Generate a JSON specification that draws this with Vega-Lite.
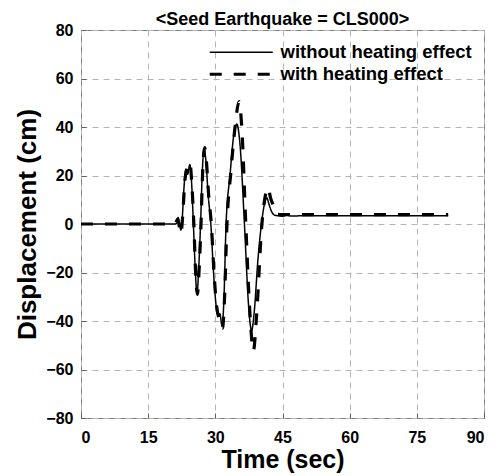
{
  "$schema": "https://vega.github.io/schema/vega-lite/v6.json",
  "width": 403,
  "height": 388,
  "autosize": {"type": "none"},
  "padding": {"left": 81, "top": 30, "right": 20, "bottom": 58},
  "background": "white",
  "title": {
    "text": "<Seed Earthquake = CLS000>",
    "font": "Liberation Sans",
    "fontWeight": "bold",
    "fontSize": 18,
    "color": "black",
    "offset": 5,
    "dy": 12,
    "anchor": "middle"
  },
  "config": {
    "view": {"stroke": "#808080", "strokeWidth": 1},
    "axis": {
      "labelFont": "Liberation Sans",
      "labelFontWeight": "bold",
      "labelFontSize": 16,
      "labelColor": "black",
      "titleFont": "Liberation Sans",
      "titleFontWeight": "bold",
      "titleFontSize": 26,
      "titleColor": "black",
      "domain": false,
      "grid": true,
      "gridColor": "#b4b4b4",
      "gridDash": [6, 5],
      "gridWidth": 1,
      "tickColor": "#606060",
      "tickSize": -5,
      "labelPadding": 13
    },
    "legend": {
      "labelLimit": 0
    }
  },
  "data": {
    "values": [
      {"t": 0, "d": 0, "s": "without heating effect"},
      {"t": 21.0, "d": 0, "s": "without heating effect"},
      {"t": 21.4, "d": 0.3, "s": "without heating effect"},
      {"t": 21.7, "d": 2.7, "s": "without heating effect"},
      {"t": 22.0, "d": 0, "s": "without heating effect"},
      {"t": 22.3, "d": -2.5, "s": "without heating effect"},
      {"t": 22.6, "d": 2, "s": "without heating effect"},
      {"t": 23.0, "d": 15, "s": "without heating effect"},
      {"t": 23.4, "d": 22.5, "s": "without heating effect"},
      {"t": 23.8, "d": 20.5, "s": "without heating effect"},
      {"t": 24.3, "d": 24.5, "s": "without heating effect"},
      {"t": 24.7, "d": 17, "s": "without heating effect"},
      {"t": 25.1, "d": 0, "s": "without heating effect"},
      {"t": 25.5, "d": -18, "s": "without heating effect"},
      {"t": 25.9, "d": -28.5, "s": "without heating effect"},
      {"t": 26.3, "d": -18, "s": "without heating effect"},
      {"t": 26.7, "d": 0, "s": "without heating effect"},
      {"t": 27.1, "d": 22, "s": "without heating effect"},
      {"t": 27.5, "d": 31, "s": "without heating effect"},
      {"t": 27.9, "d": 26, "s": "without heating effect"},
      {"t": 28.4, "d": 12, "s": "without heating effect"},
      {"t": 29.0, "d": 0, "s": "without heating effect"},
      {"t": 29.6, "d": -20, "s": "without heating effect"},
      {"t": 30.2, "d": -34, "s": "without heating effect"},
      {"t": 30.6, "d": -37.5, "s": "without heating effect"},
      {"t": 31.0, "d": -37, "s": "without heating effect"},
      {"t": 31.5, "d": -42, "s": "without heating effect"},
      {"t": 31.9, "d": -32, "s": "without heating effect"},
      {"t": 32.4, "d": 0, "s": "without heating effect"},
      {"t": 33.3, "d": 20.5, "s": "without heating effect"},
      {"t": 34.0, "d": 35, "s": "without heating effect"},
      {"t": 34.8, "d": 41.2, "s": "without heating effect"},
      {"t": 35.5, "d": 33, "s": "without heating effect"},
      {"t": 36.5, "d": 0, "s": "without heating effect"},
      {"t": 37.4, "d": -33, "s": "without heating effect"},
      {"t": 38.1, "d": -44, "s": "without heating effect"},
      {"t": 38.7, "d": -36, "s": "without heating effect"},
      {"t": 39.5, "d": -15, "s": "without heating effect"},
      {"t": 40.3, "d": 0, "s": "without heating effect"},
      {"t": 41.0, "d": 8.5, "s": "without heating effect"},
      {"t": 41.5, "d": 10.8, "s": "without heating effect"},
      {"t": 42.0, "d": 8, "s": "without heating effect"},
      {"t": 42.6, "d": 5, "s": "without heating effect"},
      {"t": 43.3, "d": 3.6, "s": "without heating effect"},
      {"t": 44.0, "d": 3.4, "s": "without heating effect"},
      {"t": 45.0, "d": 3.2, "s": "without heating effect"},
      {"t": 46.0, "d": 3.6, "s": "without heating effect"},
      {"t": 47.0, "d": 3.3, "s": "without heating effect"},
      {"t": 50.0, "d": 3.4, "s": "without heating effect"},
      {"t": 82.0, "d": 3.4, "s": "without heating effect"},
      {"t": 0, "d": 0, "s": "with heating effect"},
      {"t": 21.0, "d": 0, "s": "with heating effect"},
      {"t": 21.6, "d": 2, "s": "with heating effect"},
      {"t": 22.3, "d": -4, "s": "with heating effect"},
      {"t": 22.7, "d": 3, "s": "with heating effect"},
      {"t": 23.2, "d": 18, "s": "with heating effect"},
      {"t": 23.7, "d": 23, "s": "with heating effect"},
      {"t": 24.3, "d": 25.3, "s": "with heating effect"},
      {"t": 24.8, "d": 15, "s": "with heating effect"},
      {"t": 25.2, "d": 0, "s": "with heating effect"},
      {"t": 25.6, "d": -20, "s": "with heating effect"},
      {"t": 26.0, "d": -29, "s": "with heating effect"},
      {"t": 26.4, "d": -18, "s": "with heating effect"},
      {"t": 26.8, "d": 0, "s": "with heating effect"},
      {"t": 27.2, "d": 23, "s": "with heating effect"},
      {"t": 27.6, "d": 31.5, "s": "with heating effect"},
      {"t": 28.0, "d": 26, "s": "with heating effect"},
      {"t": 28.5, "d": 12, "s": "with heating effect"},
      {"t": 29.1, "d": 0, "s": "with heating effect"},
      {"t": 29.7, "d": -20, "s": "with heating effect"},
      {"t": 30.3, "d": -34, "s": "with heating effect"},
      {"t": 31.0, "d": -40, "s": "with heating effect"},
      {"t": 31.6, "d": -43, "s": "with heating effect"},
      {"t": 32.0, "d": -33, "s": "with heating effect"},
      {"t": 32.6, "d": 0, "s": "with heating effect"},
      {"t": 33.5, "d": 22, "s": "with heating effect"},
      {"t": 34.4, "d": 40, "s": "with heating effect"},
      {"t": 35.3, "d": 50.5, "s": "with heating effect"},
      {"t": 35.9, "d": 40, "s": "with heating effect"},
      {"t": 36.8, "d": 0, "s": "with heating effect"},
      {"t": 37.7, "d": -36, "s": "with heating effect"},
      {"t": 38.5, "d": -52.4, "s": "with heating effect"},
      {"t": 39.2, "d": -38, "s": "with heating effect"},
      {"t": 40.4, "d": 0, "s": "with heating effect"},
      {"t": 41.1, "d": 11, "s": "with heating effect"},
      {"t": 41.8, "d": 15, "s": "with heating effect"},
      {"t": 42.3, "d": 11, "s": "with heating effect"},
      {"t": 42.7, "d": 8.8, "s": "with heating effect"},
      {"t": 43.2, "d": 6.5, "s": "with heating effect"},
      {"t": 43.7, "d": 4, "s": "with heating effect"},
      {"t": 44.5, "d": 3.9, "s": "with heating effect"},
      {"t": 82.0, "d": 3.9, "s": "with heating effect"}
    ]
  },
  "mark": {"type": "line", "interpolate": "monotone", "color": "black", "clip": true},
  "encoding": {
    "x": {
      "field": "t",
      "type": "quantitative",
      "scale": {"domain": [0, 90], "nice": false},
      "axis": {"values": [0, 15, 30, 45, 60, 75, 90], "title": "Time (sec)", "titlePadding": 2, "titleFontSize": 25, "labelPadding": 16}
    },
    "y": {
      "field": "d",
      "type": "quantitative",
      "scale": {"domain": [-80, 80], "nice": false},
      "axis": {"values": [-80, -60, -40, -20, 0, 20, 40, 60, 80], "title": "Displacement (cm)", "titlePadding": 5}
    },
    "detail": {"field": "s"},
    "strokeDash": {
      "field": "s",
      "type": "nominal",
      "scale": {"domain": ["without heating effect", "with heating effect"], "range": [[1, 0], [12, 12]]},
      "legend": {
        "title": null,
        "orient": "none",
        "legendX": 151,
        "legendY": 13,
        "symbolType": "M-5,0H5",
        "symbolSize": 159,
        "symbolStrokeColor": "black",
        "labelFont": "Liberation Sans",
        "labelFontWeight": "bold",
        "labelFontSize": 18.5,
        "labelColor": "black",
        "labelOffset": 30,
        "labelLimit": 0,
        "rowPadding": 3
      }
    },
    "strokeWidth": {
      "field": "s",
      "type": "nominal",
      "scale": {"domain": ["without heating effect", "with heating effect"], "range": [1.5, 3.2]},
      "legend": {
        "title": null,
        "orient": "none",
        "legendX": 151,
        "legendY": 13,
        "symbolType": "M-5,0H5",
        "symbolSize": 159,
        "symbolStrokeColor": "black",
        "labelFont": "Liberation Sans",
        "labelFontWeight": "bold",
        "labelFontSize": 18.5,
        "labelColor": "black",
        "labelOffset": 30,
        "labelLimit": 0,
        "rowPadding": 3
      }
    }
  }
}
